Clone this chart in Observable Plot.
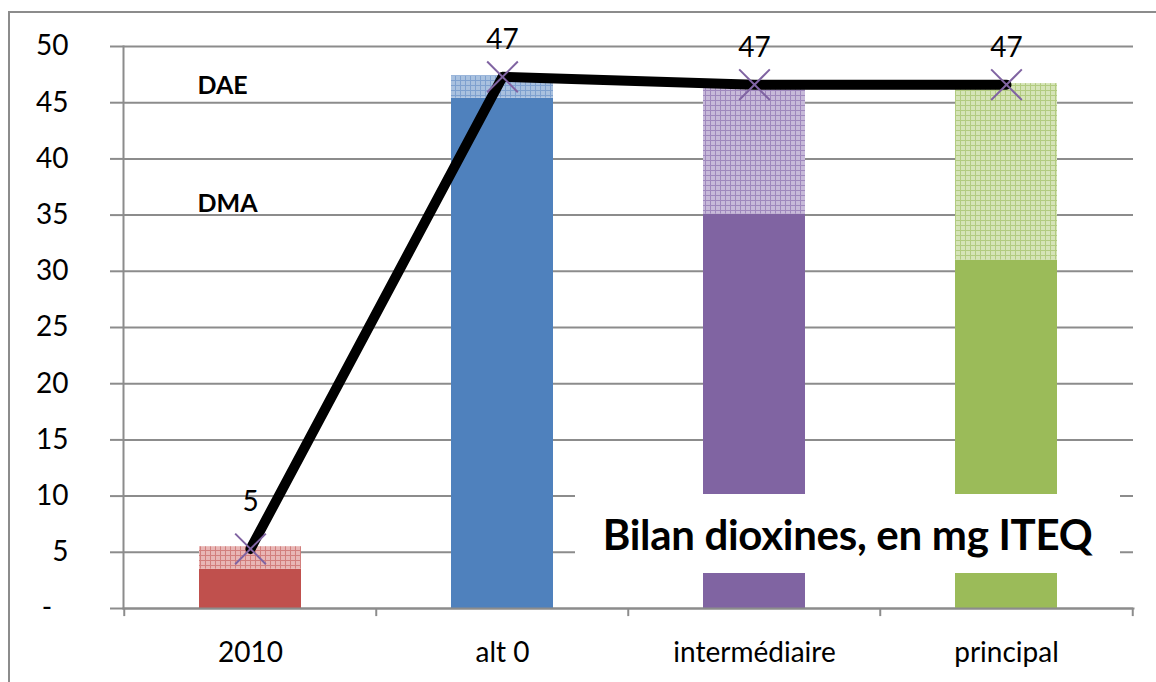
<!DOCTYPE html>
<html>
<head>
<meta charset="utf-8">
<script src="https://cdn.jsdelivr.net/npm/d3@7"></script>
<script src="https://cdn.jsdelivr.net/npm/@observablehq/plot@0.6"></script>
<style>
  html, body { margin: 0; padding: 0; background: #fff; }
  #wrap { position: relative; width: 1156px; height: 682px; overflow: hidden; font-family: Lato, sans-serif; }
  #border { position: absolute; left: 8px; top: 11px; width: 1200px; height: 700px; border: 2px solid #8c8c8c; box-sizing: border-box; }
  #chart { position: absolute; left: 0; top: 0; }
  #title { position: absolute; left: 575px; top: 494px; width: 545px; height: 79px; background: #fff;
           display: flex; align-items: center; justify-content: center;
           font-family: Lato, sans-serif; font-weight: bold; font-size: 42px; color: #000; letter-spacing: -0.3px; }
</style>
</head>
<body>
<div id="wrap">
  <div id="border"></div>
  <div id="chart"></div>
  <div id="title">Bilan dioxines, en mg ITEQ</div>
</div>
<script>
// ---- data ----
const categories = ["2010", "alt 0", "intermédiaire", "principal"];
const dma = [3.5, 45.4, 35.1, 31.0];          // solid lower part
const dae = [2.0, 2.0, 11.3, 15.7];           // hatched upper part
const totals = [5.3, 47.3, 46.6, 46.6];       // line + markers
const totalLabels = ["5", "47", "47", "47"];
const solidColors = ["#C0504D", "#4F81BD", "#8064A2", "#9BBB59"];
const hatchBg = ["#E8B6B5", "#A9C1DF", "#C7B9D9", "#D5E4B7"];
const hatchLine = ["#D27F7D", "#7FA1CF", "#9F88BD", "#B2CB80"];
const yTicks = d3.range(0, 51, 5);
const seriesLabels = ["DAE", "DMA"];
const seriesLabelY = [46.5, 36.0];

const rows = categories.map((c, i) => ({
  cat: c, dma: dma[i], dae: dae[i], top: dma[i] + dae[i], total: totals[i],
  label: totalLabels[i], solid: solidColors[i], hatch: `url(#hatch${i})`
}));

const W = 1156, H = 682, mL = 123, mR = 23, mT = 46, mB = 74;
const step = (W - mL - mR) / categories.length;
const gray = "#8c8c8c";

const svg = Plot.plot({
  width: W, height: H,
  marginLeft: mL, marginRight: mR, marginTop: mT, marginBottom: mB,
  style: { fontFamily: "Lato, sans-serif", background: "transparent" },
  x: { domain: categories, padding: 0, label: null },
  y: { domain: [0, 50], label: null },
  color: { type: "identity" },
  marks: [
    Plot.gridY(yTicks, { stroke: gray, strokeOpacity: 1, strokeWidth: 2 }),
    Plot.axisY(yTicks, {
      tickSize: 13, tickPadding: 42, stroke: gray, strokeWidth: 2, fontSize: 28, fill: "#000", label: null,
      tickFormat: d => d === 0 ? "-\u2007" : String(d)
    }),
    Plot.axisX({ tickSize: 0, tickPadding: 34, fontSize: 28, fill: "#000", label: null }),
    Plot.barY(rows, { x: "cat", y1: 0, y2: "dma", fill: "solid", insetLeft: 75, insetRight: 75 }),
    Plot.barY(rows, { x: "cat", y1: "dma", y2: "top", fill: "hatch", insetLeft: 75, insetRight: 75 }),
    Plot.frame({ anchor: "left", stroke: gray, strokeWidth: 2 }),
    Plot.frame({ anchor: "bottom", stroke: gray, strokeWidth: 2 }),
    Plot.ruleX(categories, { x: d => d, dx: -step / 2, y1: 0, y2: -0.72, stroke: gray, strokeWidth: 2 }),
    Plot.ruleX(categories.slice(-1), { x: d => d, dx: step / 2, y1: 0, y2: -0.72, stroke: gray, strokeWidth: 2 }),
    Plot.line(rows, { x: "cat", y: "total", stroke: "#000", strokeWidth: 10, strokeLinejoin: "round" }),
    Plot.dot(rows, { x: "cat", y: "total", symbol: "times", r: 14, stroke: "#8064A2", strokeWidth: 2 }),
    Plot.text(rows.slice(1), { x: "cat", y: "total", text: "label", dy: -37, fontSize: 28, fill: "#000" }),
    Plot.text(rows.slice(0, 1), { x: "cat", y: "total", text: "label", dy: -47, fontSize: 28, fill: "#000" }),
    Plot.text(seriesLabels, {
      x: () => categories[0], y: (d, i) => seriesLabelY[i], text: d => d,
      dx: -53, textAnchor: "start", fontSize: 25, fontWeight: "bold", fill: "#000"
    })
  ]
});

// hatch patterns for the upper (DAE) segments
const ns = "http://www.w3.org/2000/svg";
const defs = document.createElementNS(ns, "defs");
categories.forEach((c, i) => {
  const p = document.createElementNS(ns, "pattern");
  p.setAttribute("id", `hatch${i}`);
  p.setAttribute("patternUnits", "userSpaceOnUse");
  p.setAttribute("width", 5);
  p.setAttribute("height", 5);
  p.innerHTML = `<rect width="5" height="5" fill="${hatchBg[i]}"/>` +
    `<path d="M0 0.5H5M0.5 0V5" stroke="${hatchLine[i]}" stroke-width="1"/>`;
  defs.appendChild(p);
});
svg.insertBefore(defs, svg.firstChild);

document.getElementById("chart").appendChild(svg);
</script>
</body>
</html>
